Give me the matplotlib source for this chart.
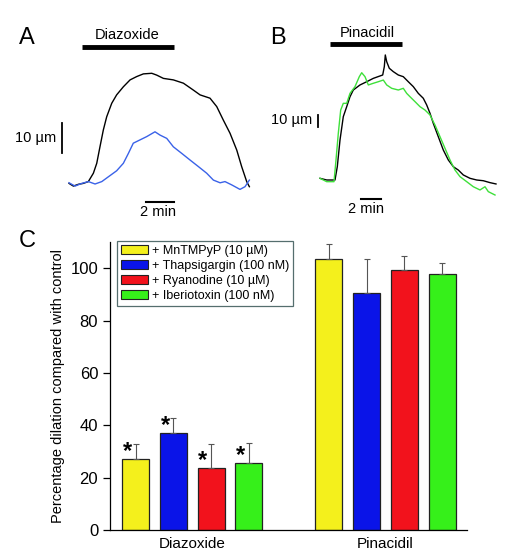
import matplotlib.pyplot as plt
from matplotlib.patches import Patch

plt.rcParams['font.family'] = ['Liberation Sans', 'DejaVu Sans']

# panel A traces: time (min), diameter change (um)
diaz_ctrl_t = [0, 0.31, 0.67, 1.02, 1.38, 1.74, 1.98, 2.21, 2.45, 2.69, 3.05, 3.40, 3.88, 4.36, 4.83,
               5.31, 5.91, 6.26, 6.74, 7.45, 8.17, 8.88, 9.36, 10.07, 10.55, 11.02, 11.5, 11.98,
               12.33, 12.69, 12.88]
diaz_ctrl_d = [0.2, -0.7, -0.1, 0.2, 0.8, 3.6, 6.9, 12.4, 18, 22.4, 26.9, 29.7, 32.4, 34.7, 35.8,
               36.7, 36.9, 36.3, 35.2, 34.7, 33.6, 31.3, 29.7, 28.6, 25.8, 21.3, 16.9, 11.3, 5.8,
               0.8, -0.9]
diaz_drug_t = [0, 0.43, 0.91, 1.38, 1.86, 2.34, 2.81, 3.40, 3.88, 4.24, 4.59, 5.07, 5.55, 6.14,
               6.5, 6.98, 7.45, 8.05, 8.64, 9.24, 9.83, 10.31, 10.79, 11.14, 11.62, 12.21, 12.57,
               12.88]
diaz_drug_d = [0.4, -0.7, 0.2, 0.8, 0, 0.8, 2.4, 4.4, 6.9, 10.2, 13.6, 14.7, 15.8, 17.4, 16.3,
               15.2, 12.4, 10.2, 8, 5.8, 3.6, 1.3, 0.4, 0.8, -0.3, -1.8, -0.9, 1.3]

# panel B traces
pin_ctrl_t = [0, 0.67, 1.5, 1.73, 2.0, 2.33, 2.67, 3.0, 3.33, 4.0, 4.67, 5.33, 6.0, 6.27, 6.43,
              6.53, 6.67, 6.93, 7.33, 7.83, 8.33, 8.83, 9.33, 9.83, 10.33, 10.67, 11.0, 11.33,
              11.83, 12.33, 12.83, 13.33, 13.83, 14.33, 15.0, 15.67, 16.33, 17.0, 17.6]
pin_ctrl_d = [1.4, 0, 0, 11.1, 33.3, 52.8, 61.1, 69.4, 75, 79.2, 81.9, 84.7, 86.7, 87.5, 94.4,
              104.2, 98.6, 93.1, 90.3, 87.5, 86.1, 81.9, 77.8, 72.2, 68.1, 62.5, 55.6, 47.2, 36.1,
              25, 16.7, 11.1, 8.3, 4.2, 1.4, 0, -0.6, -2.2, -3.3]
pin_drug_t = [0, 0.67, 1.4, 1.6, 1.83, 2.07, 2.33, 2.67, 3.0, 3.5, 3.93, 4.17, 4.5, 4.83, 5.33,
              5.83, 6.33, 6.67, 7.17, 7.83, 8.33, 8.67, 9.0, 9.5, 10.0, 10.5, 11.0, 11.5, 12.0,
              12.5, 13.0, 13.5, 14.0, 14.67, 15.33, 16.0, 16.5, 16.83, 17.5]
pin_drug_d = [1.4, -1.4, -1.4, 16.7, 38.9, 58.3, 63.9, 63.9, 72.2, 77.8, 86.1, 89.4, 86.1, 79.2,
              80.6, 81.9, 83.3, 79.2, 76.4, 75, 76.4, 72.2, 69.4, 65.3, 61.1, 58.3, 54.2, 45.8,
              36.1, 26.4, 16.7, 8.3, 2.8, -1.4, -5.6, -8.3, -5.6, -9.7, -12.5]

# panel C
treatments = ['+ MnTMPyP (10 \u00b5M)', '+ Thapsigargin (100 nM)',
              '+ Ryanodine (10 \u00b5M)', '+ Iberiotoxin (100 nM)']
colors = ['#f4f01c', '#0a14e8', '#f2121c', '#36f01a']
groups = ['Diazoxide', 'Pinacidil']
diaz_mean = [27.0, 37.2, 23.7, 25.4]
diaz_err = [5.8, 5.4, 9.1, 8.0]
pin_mean = [103.4, 90.7, 99.4, 97.9]
pin_err = [5.9, 12.9, 5.4, 4.1]
significant = [True, True, True, True]

fig = plt.figure(figsize=(5.05, 5.6), dpi=100)

# ---- panel A ----
axA = fig.add_axes([0, 1 - 225 / 560, 260 / 505, 225 / 560])
axA.plot(diaz_ctrl_t, diaz_ctrl_d, color='black', lw=1.0)
axA.plot(diaz_drug_t, diaz_drug_d, color='#3a62e8', lw=1.0)
axA.set_xlim(-4.93, 13.64)
axA.set_ylim(-13.67, 61.33)
axA.axis('off')
axA.plot([0.93, 7.5], [45.8, 45.8], color='black', lw=3.5, solid_capstyle='butt')
axA.text(4.14, 49.7, 'Diazoxide', ha='center', va='center', fontsize=10.5)
axA.plot([-0.5, -0.5], [10.3, 20.3], color='black', lw=1.3)
axA.text(-0.9, 15.3, '10 \u00b5m', ha='right', va='center', fontsize=10.5)
axA.plot([5.5, 7.5], [-6, -6], color='black', lw=1.5)
axA.text(6.36, -9.5, '2 min', ha='center', va='center', fontsize=10.5)

# ---- panel B ----
axB = fig.add_axes([255 / 505, 1 - 225 / 560, 250 / 505, 225 / 560])
axB.plot(pin_ctrl_t, pin_ctrl_d, color='black', lw=1.0)
axB.plot(pin_drug_t, pin_drug_d, color='#3ee03a', lw=1.0)
axB.set_xlim(-6.5, 18.5)
axB.set_ylim(-37.5, 150)
axB.axis('off')
axB.plot([1.0, 8.2], [113.3, 113.3], color='black', lw=3.5, solid_capstyle='butt')
axB.text(4.7, 122.5, 'Pinacidil', ha='center', va='center', fontsize=10.5)
axB.plot([-0.2, -0.2], [44.2, 54.2], color='black', lw=1.3)
axB.text(-0.8, 50, '10 \u00b5m', ha='right', va='center', fontsize=10.5)
axB.plot([4.1, 6.1], [-15.8, -15.8], color='black', lw=1.5)
axB.text(4.6, -24, '2 min', ha='center', va='center', fontsize=10.5)

# ---- panel C ----
axC = fig.add_axes([110 / 505, 30 / 560, 357 / 505, 288 / 560])
pos_diaz = [0, 1, 2, 3]
pos_pin = [5.12, 6.12, 7.12, 8.12]
axC.bar(pos_diaz, diaz_mean, width=0.72, color=colors, edgecolor='#222222', lw=0.9)
axC.bar(pos_pin, pin_mean, width=0.72, color=colors, edgecolor='#222222', lw=0.9)
axC.errorbar(pos_diaz, diaz_mean, yerr=[[0] * 4, diaz_err], fmt='none', ecolor='#555555',
             elinewidth=0.8, capsize=2.5, capthick=0.8)
axC.errorbar(pos_pin, pin_mean, yerr=[[0] * 4, pin_err], fmt='none', ecolor='#555555',
             elinewidth=0.8, capsize=2.5, capthick=0.8)
for x, m, s in zip(pos_diaz, diaz_mean, significant):
    if s:
        axC.text(x - 0.22, m - 1.5, '*', ha='center', va='bottom', fontsize=17,
                 fontweight='bold')
axC.set_xlim(-0.68, 8.78)
axC.set_ylim(0, 110)
axC.set_yticks([0, 20, 40, 60, 80, 100])
axC.tick_params(axis='y', direction='out', length=5, width=0.9, labelsize=12)
axC.set_xticks([1.5, 6.62])
axC.set_xticklabels(groups, fontsize=11)
axC.tick_params(axis='x', length=0, pad=5)
axC.spines['top'].set_visible(False)
axC.spines['right'].set_visible(False)
axC.spines['left'].set_linewidth(0.9)
axC.spines['bottom'].set_linewidth(0.9)
axC.set_ylabel('Percentage dilation compared with control', fontsize=10.5, labelpad=4)
handles = [Patch(facecolor=c, edgecolor='#222222', lw=0.8) for c in colors]
leg = axC.legend(handles, treatments, loc='upper left', bbox_to_anchor=(117 / 505, 1 - 241 / 560),
                 bbox_transform=fig.transFigure, fontsize=9, frameon=True, fancybox=False,
                 handlelength=2.2, handleheight=0.75, labelspacing=0.25, handletextpad=0.3,
                 borderpad=0.3, borderaxespad=0)
leg.get_frame().set_edgecolor('#2a4a4a')
leg.get_frame().set_linewidth(0.9)

fig.text(27 / 505, 1 - 38 / 560, 'A', ha='center', va='center', fontsize=17)
fig.text(278 / 505, 1 - 38 / 560, 'B', ha='center', va='center', fontsize=17)
fig.text(27 / 505, 1 - 241 / 560, 'C', ha='center', va='center', fontsize=17)

fig.savefig('out.png', dpi=100)
